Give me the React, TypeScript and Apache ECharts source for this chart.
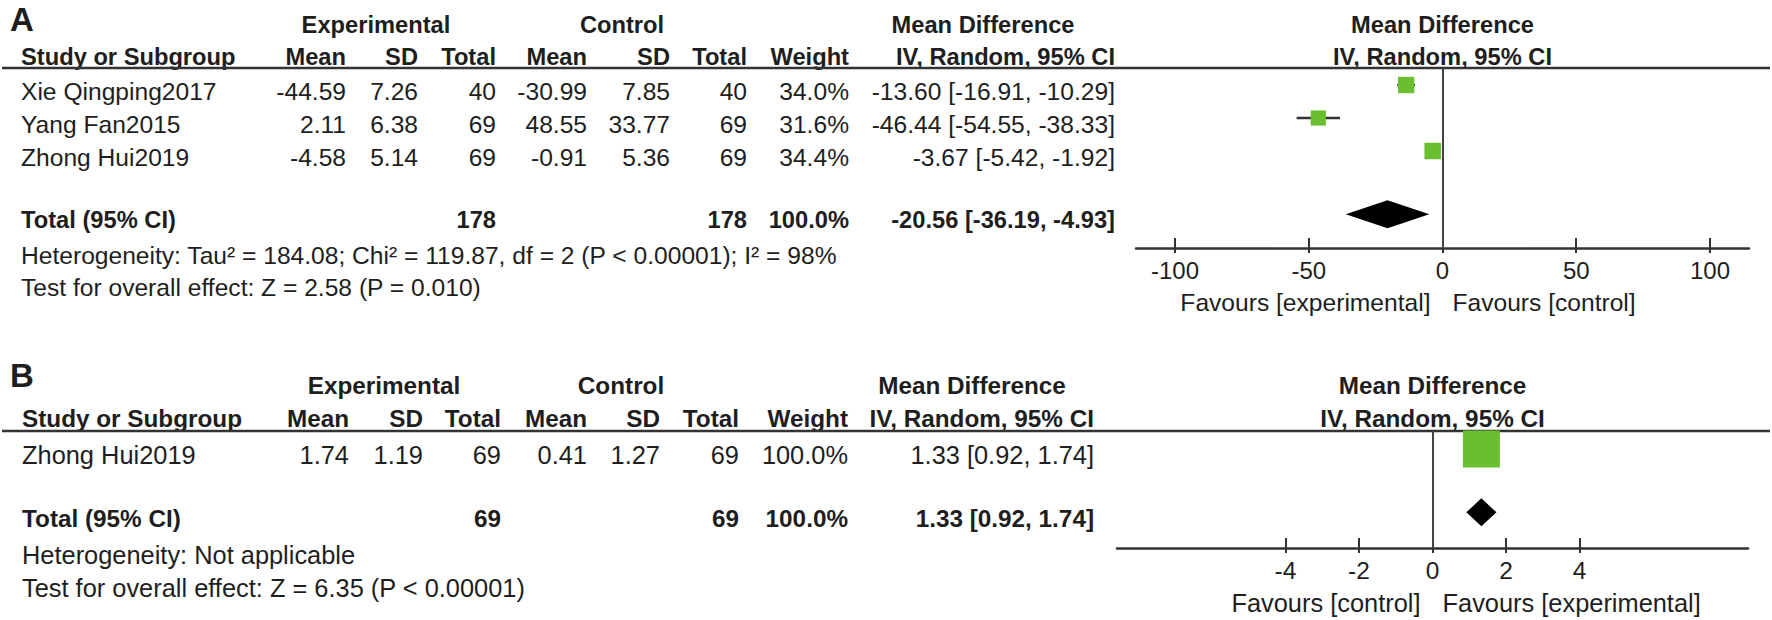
import React, { useEffect, useRef } from 'react';
import * as echarts from 'echarts';

const FONT = '"Liberation Sans", Arial, Helvetica, sans-serif';
const TXT = '#1e1e1e';
const LINE = '#333333';
const GREEN = '#6abf30';

// ---------- Panel A data ----------
const studiesA = ['Xie Qingping2017', 'Yang Fan2015', 'Zhong Hui2019'];
const expMeanA = [-44.59, 2.11, -4.58];
const expSDA = [7.26, 6.38, 5.14];
const expNA = [40, 69, 69];
const ctlMeanA = [-30.99, 48.55, -0.91];
const ctlSDA = [7.85, 33.77, 5.36];
const ctlNA = [40, 69, 69];
const weightA = [34.0, 31.6, 34.4];
const mdA = [-13.6, -46.44, -3.67];
const loA = [-16.91, -54.55, -5.42];
const hiA = [-10.29, -38.33, -1.92];
const totalCIA = [-20.56, -36.19, -4.93];
const totalNA = [178, 178];
const totalWeightA = 100.0;
const hetA = 'Heterogeneity: Tau\u00b2 = 184.08; Chi\u00b2 = 119.87, df = 2 (P < 0.00001); I\u00b2 = 98%';
const testA = 'Test for overall effect: Z = 2.58 (P = 0.010)';
const ticksA = [-100, -50, 0, 50, 100];
const favoursA = ['Favours [experimental]', 'Favours [control]'];

// ---------- Panel B data ----------
const studiesB = ['Zhong Hui2019'];
const expMeanB = [1.74];
const expSDB = [1.19];
const expNB = [69];
const ctlMeanB = [0.41];
const ctlSDB = [1.27];
const ctlNB = [69];
const weightB = [100.0];
const mdB = [1.33];
const loB = [0.92];
const hiB = [1.74];
const totalCIB = [1.33, 0.92, 1.74];
const totalNB = [69, 69];
const totalWeightB = 100.0;
const hetB = 'Heterogeneity: Not applicable';
const testB = 'Test for overall effect: Z = 6.35 (P < 0.00001)';
const ticksB = [-4, -2, 0, 2, 4];
const favoursB = ['Favours [control]', 'Favours [experimental]'];

const headerCols = ['Mean', 'SD', 'Total', 'Mean', 'SD', 'Total', 'Weight'];

const panels = [
  {
    letter: 'A',
    studies: studiesA, expMean: expMeanA, expSD: expSDA, expN: expNA,
    ctlMean: ctlMeanA, ctlSD: ctlSDA, ctlN: ctlNA, weight: weightA,
    md: mdA, lo: loA, hi: hiA, totalCI: totalCIA, totalN: totalNA, totalWeight: totalWeightA,
    het: hetA, test: testA, ticks: ticksA, favours: favoursA,
    lay: {
      fs: 24.6, bfs: 23.7, tfs: 24, letterY: 19, head1Y: 25, head2Y: 57, lineY: 68, row0: 91, pitch: 33,
      hetY: 255, testY: 287, nameX: 21,
      cols: [346, 418, 496, 587, 670, 747, 849], ciX: 1115,
      expC: 376, ctlC: 622, mdC: 983,
      gridLeft: 1136, gridWidth: 613, gridTop: 68, gridBottom: 248,
      xRange: 114.6, markerShift: 6, boxScale: 0.48, favY: 302,
    },
  },
  {
    letter: 'B',
    studies: studiesB, expMean: expMeanB, expSD: expSDB, expN: expNB,
    ctlMean: ctlMeanB, ctlSD: ctlSDB, ctlN: ctlNB, weight: weightB,
    md: mdB, lo: loB, hi: hiB, totalCI: totalCIB, totalN: totalNB, totalWeight: totalWeightB,
    het: hetB, test: testB, ticks: ticksB, favours: favoursB,
    lay: {
      fs: 25.4, bfs: 24.3, tfs: 24.5, letterY: 375, head1Y: 385, head2Y: 418, lineY: 431, row0: 455, pitch: 33,
      hetY: 555, testY: 588, nameX: 22,
      cols: [349, 423, 501, 587, 660, 739, 848], ciX: 1094,
      expC: 384, ctlC: 621, mdC: 972,
      gridLeft: 1117, gridWidth: 631, gridTop: 431, gridBottom: 548,
      xRange: 8.585, markerShift: 6, boxScale: 0.37, favY: 603,
    },
  },
];

const TOTAL_GAP = 0.92;

function f2(v: number) { return v.toFixed(2); }
function ciText(m: number, l: number, h: number) { return `${f2(m)} [${f2(l)}, ${f2(h)}]`; }

function txt(text: string, x: number, y: number, fs: number, bold: boolean, align: string) {
  return {
    type: 'text',
    silent: true,
    style: {
      text, x, y, fill: TXT, fontSize: fs, fontFamily: FONT,
      fontWeight: bold ? 'bold' : 'normal', align, verticalAlign: 'middle',
    },
  };
}

function buildTable(p: any, zeroX: number) {
  const L = p.lay;
  const els: any[] = [];
  els.push(txt(p.letter, 10, L.letterY, 33, true, 'left'));
  // header row 1
  els.push(txt('Experimental', L.expC, L.head1Y, L.bfs, true, 'center'));
  els.push(txt('Control', L.ctlC, L.head1Y, L.bfs, true, 'center'));
  els.push(txt('Mean Difference', L.mdC, L.head1Y, L.bfs, true, 'center'));
  els.push(txt('Mean Difference', zeroX, L.head1Y, L.bfs, true, 'center'));
  // header row 2
  els.push(txt('Study or Subgroup', L.nameX, L.head2Y, L.bfs, true, 'left'));
  headerCols.forEach((h, i) => els.push(txt(h, L.cols[i], L.head2Y, L.bfs, true, 'right')));
  els.push(txt('IV, Random, 95% CI', L.ciX, L.head2Y, L.bfs, true, 'right'));
  els.push(txt('IV, Random, 95% CI', zeroX, L.head2Y, L.bfs, true, 'center'));
  // header line
  els.push({
    type: 'line', silent: true,
    shape: { x1: 2, y1: L.lineY, x2: 1770, y2: L.lineY },
    style: { stroke: LINE, lineWidth: 2.5 },
  });
  // study rows
  p.studies.forEach((s: string, i: number) => {
    const y = L.row0 + L.pitch * i;
    const vals = [
      f2(p.expMean[i]), f2(p.expSD[i]), String(p.expN[i]),
      f2(p.ctlMean[i]), f2(p.ctlSD[i]), String(p.ctlN[i]), p.weight[i].toFixed(1) + '%',
    ];
    els.push(txt(s, L.nameX, y, L.fs, false, 'left'));
    vals.forEach((v, k) => els.push(txt(v, L.cols[k], y, L.fs, false, 'right')));
    els.push(txt(ciText(p.md[i], p.lo[i], p.hi[i]), L.ciX, y, L.fs, false, 'right'));
  });
  // total row
  const ty = L.row0 + L.pitch * (p.studies.length + TOTAL_GAP);
  els.push(txt('Total (95% CI)', L.nameX, ty, L.bfs, true, 'left'));
  els.push(txt(String(p.totalN[0]), L.cols[2], ty, L.bfs, true, 'right'));
  els.push(txt(String(p.totalN[1]), L.cols[5], ty, L.bfs, true, 'right'));
  els.push(txt(p.totalWeight.toFixed(1) + '%', L.cols[6], ty, L.bfs, true, 'right'));
  els.push(txt(ciText(p.totalCI[0], p.totalCI[1], p.totalCI[2]), L.ciX, ty, L.bfs, true, 'right'));
  // footnotes
  els.push(txt(p.het, L.nameX, L.hetY, L.fs, false, 'left'));
  els.push(txt(p.test, L.nameX, L.testY, L.fs, false, 'left'));
  // favours
  els.push(txt(p.favours[0], zeroX - 12, L.favY, L.fs, false, 'right'));
  els.push(txt(p.favours[1], zeroX + 10, L.favY, L.fs, false, 'left'));
  return els;
}

function buildOption() {
  const grids: any[] = [];
  const xAxes: any[] = [];
  const yAxes: any[] = [];
  const series: any[] = [];
  panels.forEach((p, pi) => {
    const L = p.lay;
    const mRow0 = L.row0 - L.markerShift;
    grids.push({
      left: L.gridLeft, top: L.gridTop, width: L.gridWidth,
      height: L.gridBottom - L.gridTop, containLabel: false,
    });
    xAxes.push({
      type: 'value', gridIndex: pi, position: 'bottom',
      min: -L.xRange, max: L.xRange,
      axisLine: { show: true, onZero: false, lineStyle: { color: LINE, width: 2.5 } },
      axisTick: { show: true, inside: true, length: 10, customValues: p.ticks, lineStyle: { color: LINE, width: 2 } },
      axisLabel: { show: true, customValues: p.ticks, color: TXT, fontSize: L.tfs, fontFamily: FONT, margin: 10 },
      splitLine: { show: false },
    });
    xAxes.push({
      type: 'value', gridIndex: pi, position: 'bottom', offset: 0,
      min: -L.xRange, max: L.xRange,
      axisLine: { show: false, onZero: false },
      axisTick: { show: true, inside: false, length: 5, customValues: p.ticks, lineStyle: { color: LINE, width: 2 } },
      axisLabel: { show: false },
      splitLine: { show: false },
    });
    yAxes.push({
      type: 'value', gridIndex: pi, inverse: true, show: false,
      min: (L.gridTop - mRow0) / L.pitch, max: (L.gridBottom - mRow0) / L.pitch,
    });
    const studyData = p.studies.map((s: string, i: number) => [p.md[i], i, p.lo[i], p.hi[i], p.weight[i]]);
    const boxScale = L.boxScale;
    series.push({
      type: 'custom', name: 'studies' + p.letter, xAxisIndex: pi * 2, yAxisIndex: pi,
      clip: false, silent: true,
      encode: { x: [0, 2, 3], y: 1 },
      data: studyData,
      renderItem: (params: any, api: any) => {
        const y = api.value(1);
        const c = api.coord([api.value(0), y]);
        const l = api.coord([api.value(2), y]);
        const h = api.coord([api.value(3), y]);
        const s = api.value(4) * boxScale;
        return {
          type: 'group',
          children: [
            { type: 'line', shape: { x1: l[0], y1: c[1], x2: h[0], y2: c[1] }, style: { stroke: LINE, lineWidth: 2.5 } },
            { type: 'rect', shape: { x: c[0] - s / 2, y: c[1] - s / 2, width: s, height: s }, style: { fill: GREEN } },
          ],
        };
      },
    });
    const totalY = p.studies.length + TOTAL_GAP;
    series.push({
      type: 'custom', name: 'total' + p.letter, xAxisIndex: pi * 2, yAxisIndex: pi,
      clip: false, silent: true,
      encode: { x: [0, 2, 3], y: 1 },
      data: [[p.totalCI[0], totalY, p.totalCI[1], p.totalCI[2]]],
      renderItem: (params: any, api: any) => {
        const y = api.value(1);
        const c = api.coord([api.value(0), y]);
        const l = api.coord([api.value(2), y]);
        const h = api.coord([api.value(3), y]);
        const hh = 14;
        return {
          type: 'polygon',
          shape: { points: [[l[0], c[1]], [c[0], c[1] - hh], [h[0], c[1]], [c[0], c[1] + hh]] },
          style: { fill: '#000000' },
        };
      },
      markLine: {
        silent: true, symbol: 'none', animation: false,
        label: { show: false },
        lineStyle: { color: '#444444', width: 2, type: 'solid' },
        data: [{ xAxis: 0 }],
      },
    });
  });
  return {
    animation: false,
    backgroundColor: '#ffffff',
    grid: grids,
    xAxis: xAxes,
    yAxis: yAxes,
    series,
  };
}

export default function App() {
  const ref = useRef<HTMLDivElement>(null);
  useEffect(() => {
    if (!ref.current) return;
    const chart = echarts.init(ref.current, undefined, { renderer: 'svg' });
    chart.setOption(buildOption());
    const graphic: any[] = [];
    panels.forEach((p, pi) => {
      const zeroX = chart.convertToPixel({ xAxisIndex: pi * 2 }, 0) as number;
      graphic.push(...buildTable(p, zeroX));
    });
    chart.setOption({ graphic });
    return () => chart.dispose();
  }, []);
  return (
    <div
      ref={ref}
      style={{ position: 'absolute', left: 0, top: 0, width: 1772, height: 620, background: '#fff' }}
    />
  );
}
